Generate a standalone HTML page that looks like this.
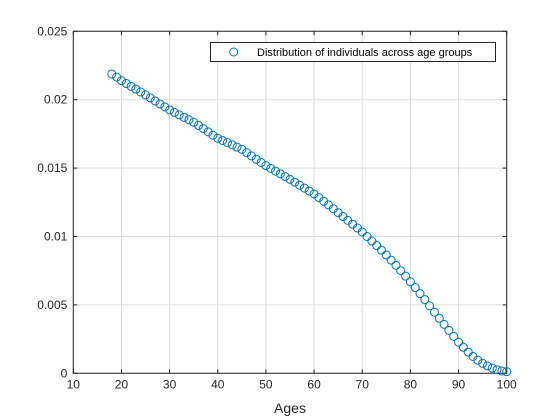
<!DOCTYPE html>
<html><head><meta charset="utf-8"><style>
html,body{margin:0;padding:0;background:#fff;}
svg{display:block;font-family:"Liberation Sans",Arial,sans-serif;}
</style></head><body>
<svg id="chart" width="560" height="420"></svg>
<script>
const ages=[];for(let a=18;a<=100;a++)ages.push(a);
const shares=[0.02188,0.02165,0.02139,0.02118,0.02097,0.02077,0.02056,0.02035,0.02013,0.01991,0.01969,0.01947,0.01925,0.01907,0.01889,0.01871,0.01853,0.01835,0.01812,0.01789,0.01765,0.01741,0.01718,0.01702,0.01686,0.01670,0.01653,0.01637,0.01613,0.01589,0.01565,0.01541,0.01518,0.01498,0.01478,0.01458,0.01438,0.01418,0.01397,0.01375,0.01354,0.01332,0.01311,0.01285,0.01258,0.01231,0.01203,0.01174,0.01146,0.01118,0.01090,0.01062,0.01033,0.01000,0.00967,0.00934,0.00900,0.00865,0.00827,0.00789,0.00750,0.00710,0.00670,0.00627,0.00583,0.00539,0.00493,0.00446,0.00402,0.00358,0.00314,0.00270,0.00227,0.00190,0.00155,0.00123,0.00096,0.00073,0.00054,0.00038,0.00026,0.00017,0.00012];
const xTicks=[10,20,30,40,50,60,70,80,90,100];
const yTicks=[0,0.005,0.01,0.015,0.02,0.025];
const yTickLabels=["0","0.005","0.01","0.015","0.02","0.025"];

const L=73.3,R=506.7,T=31.3,B=373.3;
const xs=v=>L+(v-10)/90*(R-L);
const ys=v=>B-v/0.025*(B-T);
const NS="http://www.w3.org/2000/svg";
const svg=document.getElementById('chart');
function mk(tag,attrs,parent){const e=document.createElementNS(NS,tag);for(const k in attrs)e.setAttribute(k,attrs[k]);(parent||svg).appendChild(e);return e;}

const grid=mk('g',{});


xTicks.forEach(t=>{const l=mk('line',{x1:xs(t),x2:xs(t),y1:T,y2:B,stroke:'#dcdcdc','stroke-width':1},grid);

});
yTicks.forEach(t=>{const l=mk('line',{x1:L,x2:R,y1:ys(t),y2:ys(t),stroke:'#dcdcdc','stroke-width':1},grid);

});

const box=mk('path',{d:`M${L},${T}H${R}V${B}H${L}Z`,fill:'none',stroke:'#262626','stroke-width':1});



xTicks.forEach(t=>{
 mk('line',{x1:xs(t),x2:xs(t),y1:B,y2:B-4,stroke:'#262626'});
 mk('line',{x1:xs(t),x2:xs(t),y1:T,y2:T+4,stroke:'#262626'});
 const tx=mk('text',{x:xs(t),y:B+15,'font-size':12,'text-anchor':'middle',fill:'#262626'});tx.textContent=t;
 
 
});
yTicks.forEach((t,i)=>{
 mk('line',{x1:L,x2:L+4,y1:ys(t),y2:ys(t),stroke:'#262626'});
 mk('line',{x1:R,x2:R-4,y1:ys(t),y2:ys(t),stroke:'#262626'});
 const tx=mk('text',{x:L-6,y:ys(t)+4,'font-size':12,'text-anchor':'end',fill:'#262626'});tx.textContent=yTickLabels[i];
 
 
});
const xl=mk('text',{x:(L+R)/2,y:413,'font-size':14,'text-anchor':'middle',fill:'#262626'});xl.textContent='Ages';



const series=mk('g',{});


ages.forEach((a,i)=>{const c=mk('circle',{cx:xs(a),cy:ys(shares[i]),r:4,fill:'none',stroke:'#0072BD','stroke-width':1},series);

});

const lg=mk('g',{});


mk('rect',{x:210.5,y:42.5,width:285,height:19,fill:'#fff',stroke:'#262626','stroke-width':1},lg);
mk('circle',{cx:233.7,cy:52,r:4,fill:'none',stroke:'#0072BD'},lg);
const lt=mk('text',{x:257,y:56,'font-size':11,fill:'#000'},lg);lt.textContent='Distribution of individuals across age groups';


</script>
</body></html>
